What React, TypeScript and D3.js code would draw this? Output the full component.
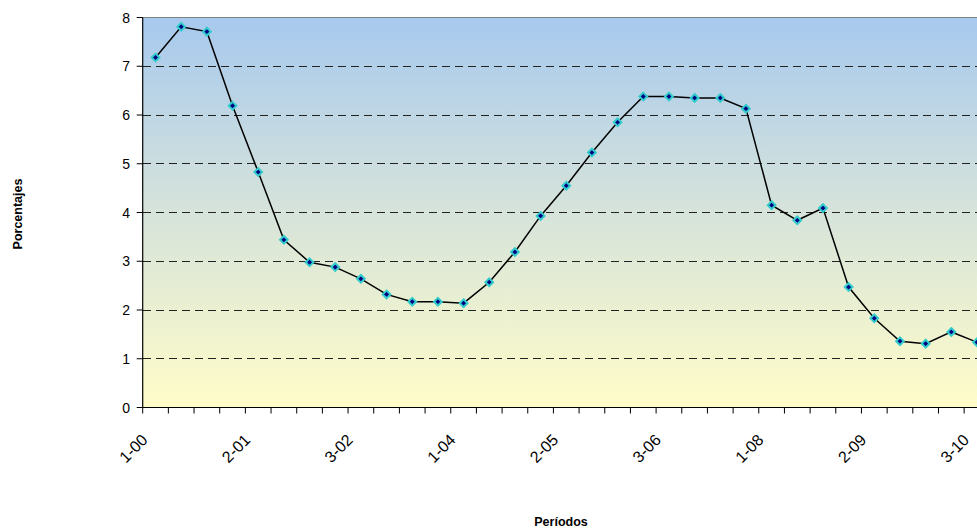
import React, { useEffect, useRef } from "react";
import * as d3 from "d3";

const periods: string[] = [];
const years = ["00", "01", "02", "03", "04", "05", "06", "07", "08", "09", "10"];
for (const y of years) for (const q of ["1", "2", "3"]) periods.push(`${q}-${y}`);

const values: number[] = [
  7.18, 7.81, 7.71, 6.19, 4.83, 3.44, 2.98, 2.88, 2.64, 2.32, 2.17,
  2.17, 2.14, 2.57, 3.19, 3.93, 4.55, 5.23, 5.85, 6.38, 6.38, 6.35,
  6.35, 6.13, 4.15, 3.84, 4.09, 2.47, 1.83, 1.36, 1.31, 1.55, 1.34,
];

const yTicks: number[] = [0, 1, 2, 3, 4, 5, 6, 7, 8];
const labelEvery = 4;

const W = 977;
const H = 532;
const left = 142.7;
const top = 17.5;
const bottom = 407.5;
const step = 25.67;
const FONT = "Liberation Sans, Arial, sans-serif";

export default function App() {
  const ref = useRef<SVGSVGElement>(null);
  useEffect(() => {
    const svg = d3.select(ref.current);
    svg.selectAll("*").remove();
    const right = left + step * periods.length;
    const x = d3.scaleBand<string>().domain(periods).range([left, right]);
    const y = d3.scaleLinear().domain([0, 8]).range([bottom, top]);

    const defs = svg.append("defs");
    const g = defs.append("linearGradient").attr("id", "bg").attr("x1", 0).attr("x2", 0).attr("y1", 0).attr("y2", 1);
    g.append("stop").attr("offset", "0%").attr("stop-color", "#a7c9ee");
    g.append("stop").attr("offset", "45%").attr("stop-color", "#d2e1dc");
    g.append("stop").attr("offset", "100%").attr("stop-color", "#fffcc8");

    svg.append("rect").attr("x", left).attr("y", top).attr("width", right - left).attr("height", bottom - top).attr("fill", "url(#bg)");

    // gridlines
    svg.append("g").selectAll("line").data(yTicks.filter((t) => t > 0 && t < 8)).join("line")
      .attr("x1", left).attr("x2", right).attr("y1", (d) => y(d)).attr("y2", (d) => y(d))
      .attr("stroke", "#222").attr("stroke-width", 1).attr("stroke-dasharray", "8,5").attr("shape-rendering", "crispEdges");

    // top border
    svg.append("line").attr("x1", left).attr("x2", right).attr("y1", top).attr("y2", top)
      .attr("stroke", "#808080").attr("stroke-width", 1.2);

    // y axis
    svg.append("line").attr("x1", left).attr("x2", left).attr("y1", top).attr("y2", bottom)
      .attr("stroke", "#000").attr("stroke-width", 1.2);
    const ya = svg.append("g");
    ya.selectAll("line").data(yTicks).join("line")
      .attr("x1", left - 6).attr("x2", left).attr("y1", (d) => y(d)).attr("y2", (d) => y(d))
      .attr("stroke", "#000");
    ya.selectAll("text").data(yTicks).join("text")
      .attr("x", 130).attr("y", (d) => y(d)).attr("dy", "0.36em").attr("text-anchor", "end")
      .attr("font-family", FONT).attr("font-size", 14).attr("fill", "#000")
      .text((d) => String(d));

    // x axis
    svg.append("line").attr("x1", left).attr("x2", right).attr("y1", bottom).attr("y2", bottom)
      .attr("stroke", "#000").attr("stroke-width", 1.2);
    const bounds = d3.range(periods.length + 1);
    svg.append("g").selectAll("line").data(bounds).join("line")
      .attr("x1", (i) => left + i * x.bandwidth()).attr("x2", (i) => left + i * x.bandwidth())
      .attr("y1", bottom).attr("y2", bottom + 6).attr("stroke", "#000");
    svg.append("g").selectAll("text").data(periods.filter((_, i) => i % labelEvery === 0)).join("text")
      .attr("transform", (d) => `translate(${(x(d) as number) + x.bandwidth() / 2 - 7},${441}) rotate(-45)`)
      .attr("text-anchor", "end")
      .attr("font-family", FONT).attr("font-size", 16).attr("fill", "#000")
      .text((d) => d);

    // line
    const line = d3.line<number>().x((_, i) => (x(periods[i]) as number) + x.bandwidth() / 2).y((d) => y(d));
    svg.append("path").datum(values).attr("d", line).attr("fill", "none").attr("stroke", "#000").attr("stroke-width", 1.5);

    const sym = d3.symbol().type(d3.symbolDiamond2).size(38);
    svg.append("g").selectAll("path").data(values).join("path")
      .attr("transform", (d, i) => `translate(${(x(periods[i]) as number) + x.bandwidth() / 2},${y(d)})`)
      .attr("d", sym as any).attr("fill", "#000080").attr("stroke", "#33cccc").attr("stroke-width", 2);

    // titles
    svg.append("text").attr("transform", `translate(22,${214}) rotate(-90)`)
      .attr("text-anchor", "middle").attr("font-family", FONT)
      .attr("font-size", 12.5).attr("font-weight", "bold").text("Porcentajes");
    svg.append("text").attr("x", 561).attr("y", 526).attr("text-anchor", "middle")
      .attr("font-family", FONT)
      .attr("font-size", 12.5).attr("font-weight", "bold").text("Períodos");
  }, []);
  return (
    <svg ref={ref} width={W} height={H} style={{ position: "fixed", left: 0, top: 0, display: "block", background: "#fff" }} />
  );
}
